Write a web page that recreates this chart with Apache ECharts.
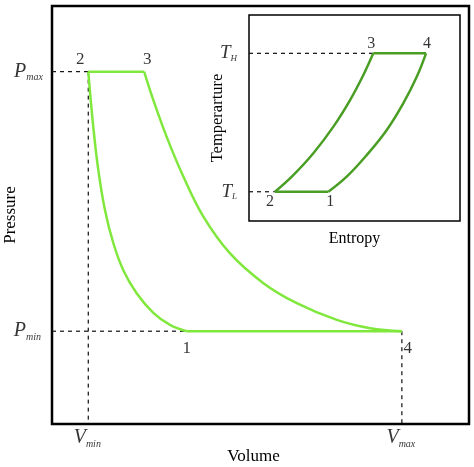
<!DOCTYPE html>
<html>
<head>
<meta charset="utf-8">
<script src="https://cdn.jsdelivr.net/npm/echarts@6/dist/echarts.min.js"></script>
<style>
  html, body { margin: 0; padding: 0; background: #fff; }
  #chart { width: 474px; height: 467px; }
</style>
</head>
<body>
<div id="chart"></div>
<script>
// P-V diagram (arbitrary units, axes 0..10)
var vCompress = [0.87, 0.99, 1.11, 1.27, 1.47, 1.71, 2.03, 2.43, 2.83, 3.23];
var pCompress = [8.43, 7.11, 6.08, 5.12, 4.33, 3.68, 3.13, 2.66, 2.37, 2.22];
var vExpand = [2.21, 2.43, 2.75, 3.15, 3.63, 4.27, 5.07, 5.87, 6.83, 7.63, 8.39];
var pExpand = [8.43, 7.75, 6.87, 5.92, 4.96, 4.08, 3.37, 2.89, 2.49, 2.29, 2.22];
var pvNames = ['1', '2', '3', '4'];
var pvV = [3.23, 0.87, 2.21, 8.39];
var pvP = [2.22, 8.43, 8.43, 2.22];

// T-S inset
var sHeat = [1.23, 2.10, 3.05, 4.00, 4.79, 5.42, 5.89];
var tHeat = [1.42, 2.23, 3.29, 4.58, 5.87, 7.09, 8.14];
var sReject = [8.39, 7.95, 7.31, 6.53, 5.58, 4.63, 3.76];
var tReject = [8.14, 7.00, 5.71, 4.42, 3.20, 2.15, 1.42];
var tsNames = ['1', '2', '3', '4'];
var tsS = [3.76, 1.23, 5.89, 8.39];
var tsT = [1.42, 1.42, 8.14, 8.14];

var Vmin = pvV[1], Vmax = pvV[3], Pmin = pvP[0], Pmax = pvP[1];
var TL = tsT[0], TH = tsT[2];

var serif = 'Liberation Serif';
var ink = '#000';
var mainGreen = '#80e83c';
var insetGreen = '#4a9e24';

var zip = function(xs, ys) {
    return xs.map(function(x, i) { return [x, ys[i]]; });
};

var subRich = {
    a: { fontFamily: serif, fontStyle: 'italic', fontSize: 20, color: ink },
    b: { fontFamily: serif, fontStyle: 'italic', fontSize: 10, color: ink, padding: [12, 0, 0, 0] }
};

var echart = echarts.init(document.getElementById('chart'));

var pvOffsets = [[0, 17], [-8, -12], [3, -12], [6, 17]];
var tsOffsets = [[2, 10], [-5, 10], [-2, -10], [1, -10]];

var dashed = { color: '#111', width: 1.2, type: [4, 4] };

var hiddenAxis = function(extra) {
    var ax = {
        type: 'value', min: 0, max: 10,
        axisLine: { show: false }, axisTick: { show: false },
        axisLabel: { show: false }, splitLine: { show: false },
        nameLocation: 'middle',
        nameTextStyle: { fontFamily: serif, fontSize: 17, color: ink }
    };
    for (var k in extra) ax[k] = extra[k];
    return ax;
};

var guide = function(idx, pts) {
    return {
        type: 'line', xAxisIndex: idx, yAxisIndex: idx, data: pts,
        symbol: 'none', lineStyle: dashed, silent: true, z: 1
    };
};

var pointLabel = function(size) {
    return { show: true, position: 'inside', formatter: '{b}',
             fontFamily: serif, fontSize: size, color: ink,
             textBorderWidth: 0 };
};

var option = {
    backgroundColor: '#fff',
    animation: false,
    grid: [
        { left: 52, top: 6, right: 5, bottom: 43, show: true, borderColor: '#000', borderWidth: 2.5, outerBoundsMode: 'none' },
        { left: 249, top: 15, right: 14, bottom: 246, show: true, borderColor: '#000', borderWidth: 1.5, backgroundColor: '#fff', outerBoundsMode: 'none' }
    ],
    xAxis: [
        hiddenAxis({ gridIndex: 0, name: 'Volume', nameGap: 24,
                     nameTextStyle: { fontFamily: serif, fontSize: 17, color: ink, padding: [0, 14, 0, 0] } }),
        hiddenAxis({ gridIndex: 1, name: 'Entropy', nameGap: 10,
                     nameTextStyle: { fontFamily: serif, fontSize: 16, color: ink } })
    ],
    yAxis: [
        hiddenAxis({ gridIndex: 0, name: 'Pressure', nameGap: 33 }),
        hiddenAxis({ gridIndex: 1, name: 'Temperarture', nameGap: 23,
                     nameTextStyle: { fontFamily: serif, fontSize: 16.5, color: ink } })
    ],
    series: [
        guide(0, [[0, Pmax], [Vmin, Pmax]]),
        guide(0, [[Vmin, Pmax], [Vmin, 0]]),
        guide(0, [[0, Pmin], [pvV[0], Pmin]]),
        guide(0, [[Vmax, Pmin], [Vmax, 0]]),
        { type: 'line', data: zip(vCompress, pCompress), smooth: 0.4, symbol: 'none',
          lineStyle: { color: mainGreen, width: 2.5 } },
        { type: 'line', data: zip(vExpand, pExpand), smooth: 0.4, symbol: 'none',
          lineStyle: { color: mainGreen, width: 2.5 } },
        { type: 'line', data: [[Vmin, Pmax], [pvV[2], Pmax]], symbol: 'none',
          lineStyle: { color: mainGreen, width: 2.5 } },
        { type: 'line', data: [[pvV[0], Pmin], [Vmax, Pmin]], symbol: 'none',
          lineStyle: { color: mainGreen, width: 2.5 } },
        { type: 'scatter', symbolSize: 0, silent: true,
          data: pvNames.map(function(n, i) {
              return { name: n, value: [pvV[i], pvP[i]],
                       label: { offset: pvOffsets[i] } };
          }),
          label: pointLabel(17) },
        { type: 'scatter', symbolSize: 0, silent: true,
          data: [
              { value: [0, Pmax], label: { formatter: '{a|P}{b|max}', position: 'left', distance: 9 } },
              { value: [0, Pmin], label: { formatter: '{a|P}{b|min}', position: 'left', distance: 11 } },
              { value: [Vmin, 0], label: { formatter: '{a|V}{b|min}', position: 'bottom', distance: 3, offset: [-1, 0] } },
              { value: [Vmax, 0], label: { formatter: '{a|V}{b|max}', position: 'bottom', distance: 3, offset: [-1, 0] } }
          ],
          label: { show: true, rich: subRich } },

        // inset
        guide(1, [[0, TH], [tsS[2], TH]]),
        guide(1, [[0, TL], [tsS[1], TL]]),
        { type: 'line', xAxisIndex: 1, yAxisIndex: 1, data: zip(sHeat, tHeat), smooth: 0.4, symbol: 'none',
          lineStyle: { color: insetGreen, width: 2.5 }, z: 3 },
        { type: 'line', xAxisIndex: 1, yAxisIndex: 1, data: zip(sReject, tReject), smooth: 0.4, symbol: 'none',
          lineStyle: { color: insetGreen, width: 2.5 }, z: 3 },
        { type: 'line', xAxisIndex: 1, yAxisIndex: 1, data: [[tsS[1], TL], [tsS[0], TL]], symbol: 'none',
          lineStyle: { color: insetGreen, width: 2.5 }, z: 3 },
        { type: 'line', xAxisIndex: 1, yAxisIndex: 1, data: [[tsS[2], TH], [tsS[3], TH]], symbol: 'none',
          lineStyle: { color: insetGreen, width: 2.5 }, z: 3 },
        { type: 'scatter', xAxisIndex: 1, yAxisIndex: 1, symbolSize: 0, silent: true,
          data: tsNames.map(function(n, i) {
              return { name: n, value: [tsS[i], tsT[i]],
                       label: { offset: tsOffsets[i] } };
          }),
          label: pointLabel(16) },
        { type: 'scatter', xAxisIndex: 1, yAxisIndex: 1, symbolSize: 0, silent: true,
          data: [
              { value: [0, TH], label: { formatter: '{a|T}{b|H}' } },
              { value: [0, TL], label: { formatter: '{a|T}{b|L}' } }
          ],
          label: { show: true, position: 'left', distance: 12,
                   rich: {
                       a: { fontFamily: serif, fontStyle: 'italic', fontSize: 19, color: ink },
                       b: { fontFamily: serif, fontStyle: 'italic', fontSize: 9, color: ink, padding: [10, 0, 0, 0] }
                   } } }
    ]
};

echart.setOption(option);
</script>
</body>
</html>
